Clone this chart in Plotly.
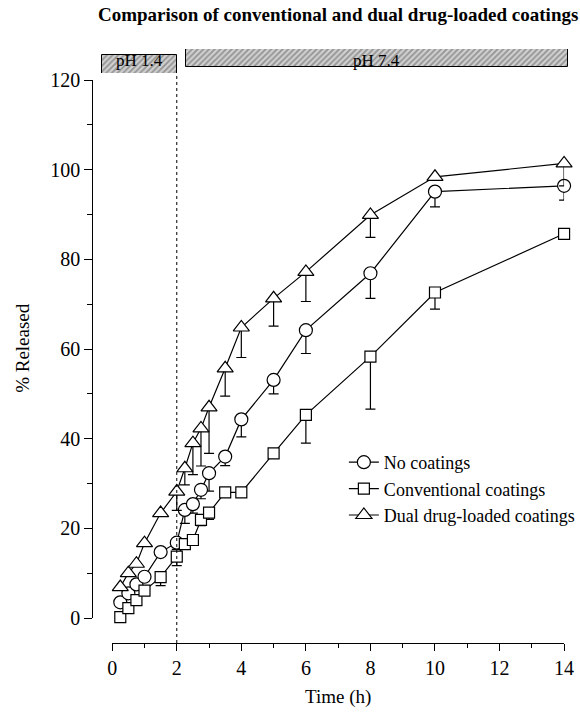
import plotly.graph_objects as go

# ---- data ----
time_h = [0.25, 0.5, 0.75, 1, 1.5, 2, 2.25, 2.5, 2.75, 3, 3.5, 4, 5, 6, 8, 10, 14]
no_coat = [3.5, 5.5, 7.5, 9.2, 14.7, 16.8, 24.1, 25.4, 28.6, 32.3, 36.0, 44.3, 53.1, 64.2, 76.9, 95.1, 96.4]
no_coat_err = [0, 0, 0, 0, 0, 1.5, 3, 2, 2, 4, 2, 3.9, 3.1, 5.2, 5.6, 3.4, 3.2]
conv = [0.2, 2.2, 4.0, 6.1, 9.1, 13.7, 16.5, 17.4, 21.9, 23.5, 28.0, 28.0, 36.7, 45.3, 58.3, 72.6, 85.7]
conv_err = [0, 0, 0, 0, 1.9, 2, 0, 1, 1.3, 1.5, 0, 0, 0, 6.3, 11.7, 3.7, 0]
dual = [6.9, 10.0, 12.1, 16.7, 23.4, 28.2, 33.4, 39.0, 42.3, 47.0, 55.7, 64.8, 71.3, 77.2, 89.9, 98.4, 101.4]
dual_err = [0, 0, 0, 0, 0, 4.2, 3.7, 7, 8.4, 10.3, 6.2, 6.7, 6.2, 6.6, 5, 0, 5]

series_names = ["No coatings", "Conventional coatings", "Dual drug-loaded coatings"]
phase_labels = ["pH 1.4", "pH 7.4"]
phase_start = [-0.31, 2.28]
phase_end = [2.0, 14.12]
ph_switch = 2

x_ticks = [0, 2, 4, 6, 8, 10, 12, 14]
y_ticks = [0, 20, 40, 60, 80, 100, 120]

FONT = "Liberation Serif"
W, H = 580, 721
px0, px1 = 113, 568     # x pixel of 0 and 14 h
py0, py1 = 618, 80      # y pixel of 0 and 120 %
pxpr = (px1 - px0) / 14.0

fig = go.Figure()

symbols = ["circle", "square", "triangle-up"]
sizes = [13, 11, 14]
for name, ys, errs, sym, sz in zip(series_names, [no_coat, conv, dual],
                                   [no_coat_err, conv_err, dual_err], symbols, sizes):
    fig.add_trace(go.Scatter(
        x=time_h, y=ys, name=name, mode="lines+markers",
        line=dict(color="black", width=1.2),
        marker=dict(symbol=sym, size=sz, color="white", line=dict(color="black", width=1.2)),
        error_y=dict(type="data", symmetric=False, array=[0] * len(errs), arrayminus=errs,
                     color="black", thickness=1.2, width=5),
        cliponaxis=False,
    ))

# pH phase banners (hatched)
for lab, s, e in zip(phase_labels, phase_start, phase_end):
    fig.add_trace(go.Bar(
        x=[e - s], base=[s], y=[0.5], orientation="h", width=[1.0],
        xaxis="x2", yaxis="y2", showlegend=False,
        marker=dict(color="#bdbdbd", line=dict(color="black", width=1),
                    pattern=dict(shape="/", fgcolor="#555555", bgcolor="#d0d0d0",
                                 size=4, solidity=0.45)),
        hoverinfo="skip",
    ))

annotations = [
    dict(text="<b>Comparison of conventional and dual drug-loaded coatings</b>",
         xref="paper", yref="paper", x=340 / W, y=1 - 15 / H, xanchor="center",
         yanchor="middle", showarrow=False, font=dict(family=FONT, size=19)),
    dict(text="Time (h)", xref="paper", yref="paper", x=340 / W, y=1 - 697 / H,
         xanchor="center", yanchor="middle",
         showarrow=False, font=dict(family=FONT, size=19)),
    dict(text="% Released", xref="paper", yref="paper", x=22 / W, y=1 - 348 / H,
         xanchor="center", yanchor="middle",
         showarrow=False, textangle=-90, font=dict(family=FONT, size=19)),
]
for lab, s, e in zip(phase_labels, phase_start, phase_end):
    annotations.append(dict(text=lab, xref="x2", yref="y2", x=(s + e) / 2, y=0.5,
                            xanchor="center", yanchor="middle", showarrow=False,
                            font=dict(family=FONT, size=17, color="black")))

fig.add_shape(type="line", xref="x", yref="paper", x0=ph_switch, x1=ph_switch,
              y0=1 - 643 / H, y1=1 - 76 / H,
              line=dict(color="black", width=1, dash="dot"))

fig.update_layout(
    width=W, height=H,
    margin=dict(l=0, r=0, t=0, b=0),
    paper_bgcolor="white", plot_bgcolor="white",
    font=dict(family=FONT, size=17, color="black"),
    showlegend=True,
    legend=dict(x=0.597, y=1 - 444 / H, xanchor="left", yanchor="top",
                font=dict(family=FONT, size=18), bgcolor="rgba(0,0,0,0)",
                tracegroupgap=0),
    xaxis=dict(domain=[px0 / W, px1 / W], range=[0, 14], anchor="free",
               position=1 - 643 / H, showgrid=False, zeroline=False,
               showline=True, linecolor="black", linewidth=1,
               tickvals=x_ticks, ticks="outside", ticklen=7, tickcolor="black",
               minor=dict(dtick=1, ticks="outside", ticklen=4, tickcolor="black"),
               tickfont=dict(family=FONT, size=20), automargin=False),
    yaxis=dict(domain=[1 - py0 / H, 1 - py1 / H], range=[0, 120], anchor="free",
               position=93 / W, showgrid=False, zeroline=False,
               showline=True, linecolor="black", linewidth=1,
               tickvals=y_ticks, ticks="outside", ticklen=8, tickcolor="black",
               minor=dict(dtick=10, ticks="outside", ticklen=5, tickcolor="black"),
               tickfont=dict(family=FONT, size=20), automargin=False),
    xaxis2=dict(domain=[0, 1], range=[-px0 / pxpr, (W - px0) / pxpr], visible=False,
                anchor="y2"),
    yaxis2=dict(domain=[1 - 73 / H, 1 - 49 / H], range=[0, 1], visible=False,
                anchor="x2"),
    bargap=0,
    annotations=annotations,
)

fig.write_html("out.html", config={"displayModeBar": False},
               post_script="document.body.style.margin='0px';")
